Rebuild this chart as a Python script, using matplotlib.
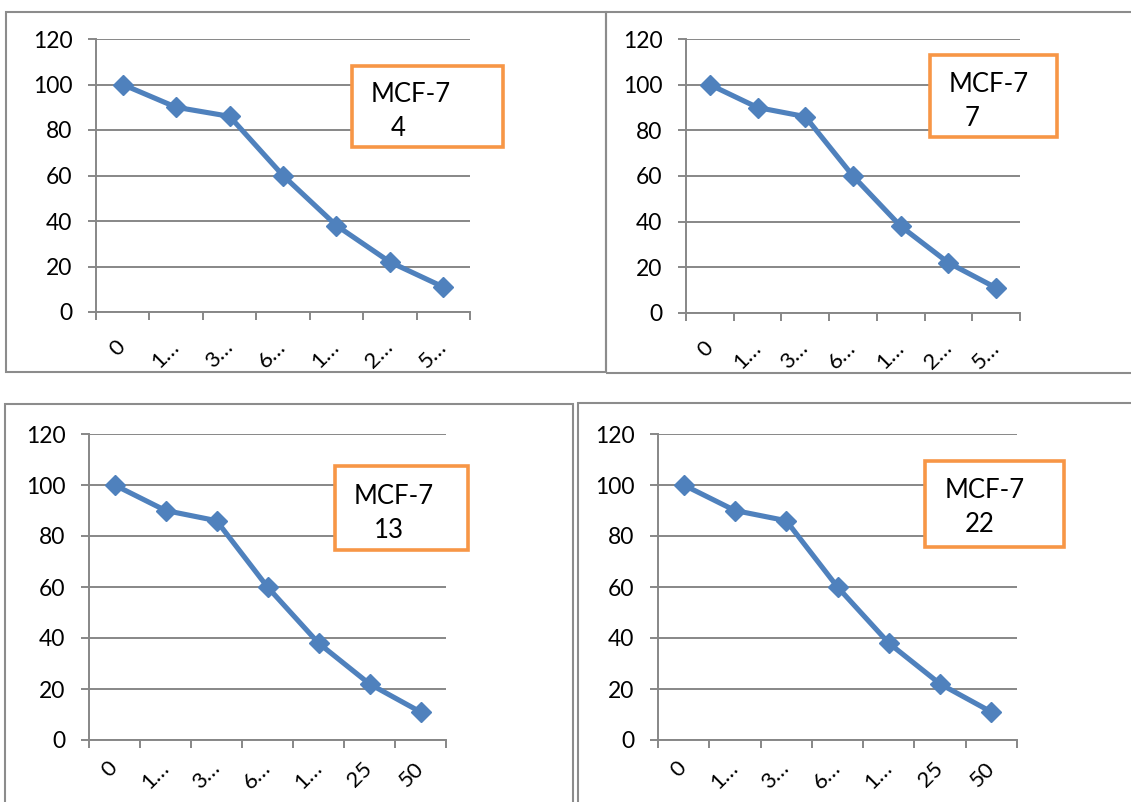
import matplotlib
matplotlib.use("Agg")
import matplotlib.pyplot as plt
from matplotlib.patches import Rectangle
from matplotlib.transforms import ScaledTranslation

# cell viability (%) against concentration, same curve for each passage
labels_top = ["0", "1…", "3…", "6…", "1…", "2…", "5…"]
labels_bottom = ["0", "1…", "3…", "6…", "1…", "25", "50"]
viability = [100, 90, 86, 60, 38, 22, 11]
passages = ["4", "7", "13", "22"]
yticks = [0, 20, 40, 60, 80, 100, 120]

W, H = 1131, 802
BLUE = "#4F81BD"
ORANGE = "#F79646"
GRID = "#878787"
FRAME = "#8C8C8C"

plt.rcParams["font.family"] = ["Lato", "DejaVu Sans"]

fig = plt.figure(figsize=(W / 100, H / 100), dpi=100)


def rect(l, t, r, b):
    # pixel box -> figure fraction
    return [l / W, 1 - b / H, (r - l) / W, (b - t) / H]


# layout in pixels: axes box, outer frame, label box, x-label top gap
panels = [
    dict(ax=(96, 39, 470, 312), frame=(6, 12, 606, 372), box=(352, 66, 503, 147),
         labels=labels_top, pad=18, txt=(371, 94), num=(391, 129)),
    dict(ax=(686, 39, 1020, 313), frame=(606, 12, 1140, 373), box=(930, 55, 1057, 137),
         labels=labels_top, pad=18, txt=(949, 84), num=(965, 118)),
    dict(ax=(89, 434, 446, 740), frame=(5, 404, 573, 815), box=(335, 466, 468, 550),
         labels=labels_bottom, pad=13, txt=(354, 496), num=(374, 530)),
    dict(ax=(658, 434, 1017, 740), frame=(578, 403, 1140, 815), box=(925, 461, 1064, 547),
         labels=labels_bottom, pad=13, txt=(945, 490), num=(965, 524)),
]

for p, passage in zip(panels, passages):
    l, t, r, b = p["frame"]
    fig.patches.append(Rectangle((l / W, 1 - b / H), (r - l) / W, (b - t) / H,
                                 transform=fig.transFigure, fill=False,
                                 edgecolor=FRAME, lw=1.5, zorder=0))

    ax = fig.add_axes(rect(*p["ax"]))
    x = list(range(len(viability)))
    ax.plot(x, viability, color=BLUE, lw=3.7, marker="D", ms=10.5,
            mec=BLUE, mfc=BLUE, zorder=3, clip_on=False)

    ax.set_xlim(-0.5, len(viability) - 0.5)
    ax.set_ylim(0, 120)
    ax.set_yticks(yticks)
    ax.set_yticklabels([str(v) for v in yticks], fontsize=16.5)
    ax.grid(axis="y", color=GRID, lw=1.4)
    ax.set_axisbelow(True)

    # category boundaries carry the tick marks, centres carry the labels
    ax.set_xticks([i - 0.5 for i in range(len(viability) + 1)])
    ax.set_xticklabels([])
    ax.set_xticks(x, minor=True)
    ax.set_xticklabels(p["labels"], minor=True, rotation=45, ha="right",
                       va="top", fontsize=16)
    ax.tick_params(axis="x", which="minor", length=0, pad=p["pad"])
    ax.tick_params(axis="x", which="major", direction="out", length=6,
                   width=1.4, color=GRID)
    ax.tick_params(axis="y", direction="out", length=6, width=1.4,
                   color=GRID, pad=11)
    shift = ScaledTranslation(7 / 100, 0, fig.dpi_scale_trans)
    for lab in ax.get_xticklabels(minor=True):
        lab.set_transform(lab.get_transform() + shift)

    for side in ("top", "right"):
        ax.spines[side].set_visible(False)
    for side in ("left", "bottom"):
        ax.spines[side].set_color(GRID)
        ax.spines[side].set_linewidth(1.4)

    bl, bt, br, bb = p["box"]
    fig.patches.append(Rectangle((bl / W, 1 - bb / H), (br - bl) / W, (bb - bt) / H,
                                 transform=fig.transFigure, facecolor="white",
                                 edgecolor=ORANGE, lw=2.6, zorder=5))
    tx, ty = p["txt"]
    fig.text(tx / W, 1 - ty / H, "MCF-7", fontsize=18.5, va="center",
             ha="left", zorder=6)
    nx, ny = p["num"]
    fig.text(nx / W, 1 - ny / H, passage, fontsize=18.5, va="center",
             ha="left", zorder=6)

fig.savefig("out.png", dpi=100, facecolor="white")
